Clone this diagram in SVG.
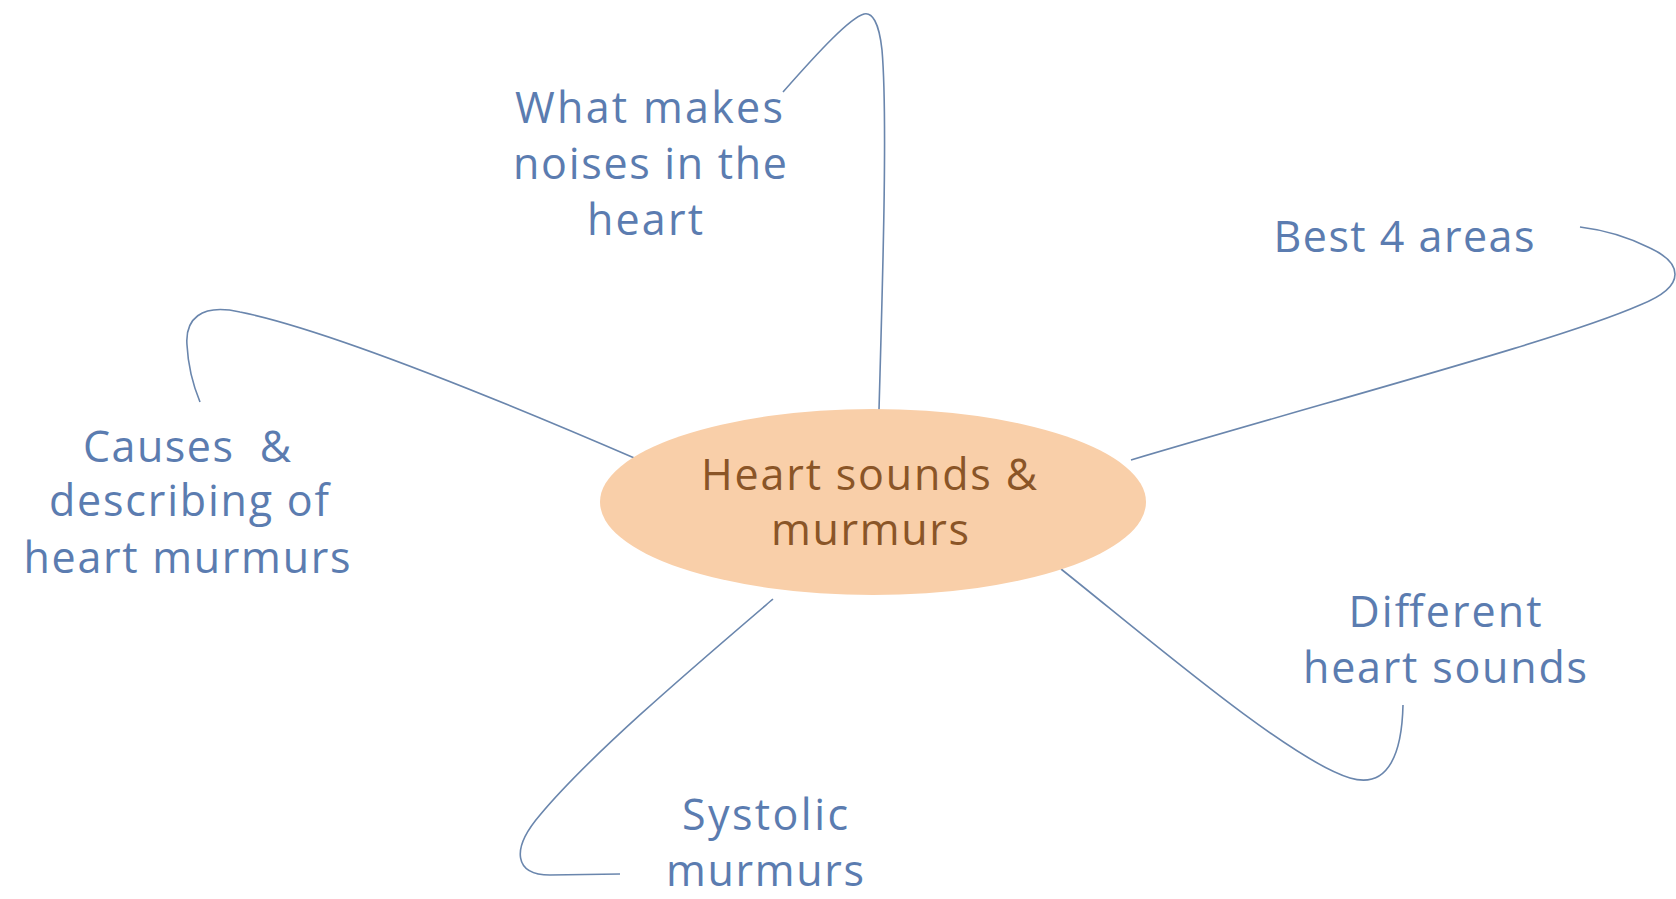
<svg xmlns="http://www.w3.org/2000/svg" width="1676" height="899" viewBox="0 0 1676 899">
<style>
.lbl{font-family:"Open Sans","Liberation Sans",sans-serif;font-size:43px;fill:#5b7cb0;text-anchor:middle}
.ctr{font-family:"Open Sans","Liberation Sans",sans-serif;font-size:43px;fill:#8a5527;text-anchor:middle}
.con{fill:none;stroke:#6a86ad;stroke-width:1.6}
</style>
<rect width="1676" height="899" fill="#ffffff"/>
<g id="connectors">
<path class="con" d="M879,410 C882,300 888,120 882,50 C879,22 872,12 864,14 C850,18 820,50 783,92"/>
<path class="con" d="M1131,460 C1350,395 1560,340 1640,305 C1690,285 1680,262 1650,248 C1630,238 1605,230 1580,227"/>
<path class="con" d="M639,460 C500,400 330,330 240,312 C200,303 185,320 187,345 C188,365 193,385 200,402"/>
<path class="con" d="M1061,569 C1150,640 1290,760 1350,778 C1390,790 1402,750 1403,705"/>
<path class="con" d="M773,599 C690,670 590,755 540,815 C510,850 515,875 550,875 L620,874"/>
</g>
<g id="center">
<ellipse cx="873" cy="502" rx="273" ry="93" fill="#f9cfa9"/>
<text class="ctr" x="869" y="490" textLength="336" lengthAdjust="spacing">Heart sounds &amp;</text>
<text class="ctr" x="870" y="545" textLength="198" lengthAdjust="spacing">murmurs</text>
</g>
<g id="node-noises">
<text class="lbl" x="649" y="123" textLength="268" lengthAdjust="spacing">What makes</text>
<text class="lbl" x="650" y="179" textLength="274" lengthAdjust="spacing">noises in the</text>
<text class="lbl" x="645" y="235" textLength="116" lengthAdjust="spacing">heart</text>
</g>
<g id="node-areas">
<text class="lbl" x="1404" y="252" textLength="261" lengthAdjust="spacing">Best 4 areas</text>
</g>
<g id="node-causes">
<text class="lbl" x="187" y="462" textLength="208" lengthAdjust="spacing" xml:space="preserve">Causes  &amp;</text>
<text class="lbl" x="189" y="516" textLength="280" lengthAdjust="spacing">describing of</text>
<text class="lbl" x="187" y="573" textLength="327" lengthAdjust="spacing">heart murmurs</text>
</g>
<g id="node-sounds">
<text class="lbl" x="1445" y="627" textLength="193" lengthAdjust="spacing">Different</text>
<text class="lbl" x="1445" y="683" textLength="284" lengthAdjust="spacing">heart sounds</text>
</g>
<g id="node-systolic">
<text class="lbl" x="765" y="830" textLength="166" lengthAdjust="spacing">Systolic</text>
<text class="lbl" x="765" y="886" textLength="198" lengthAdjust="spacing">murmurs</text>
</g>
</svg>
